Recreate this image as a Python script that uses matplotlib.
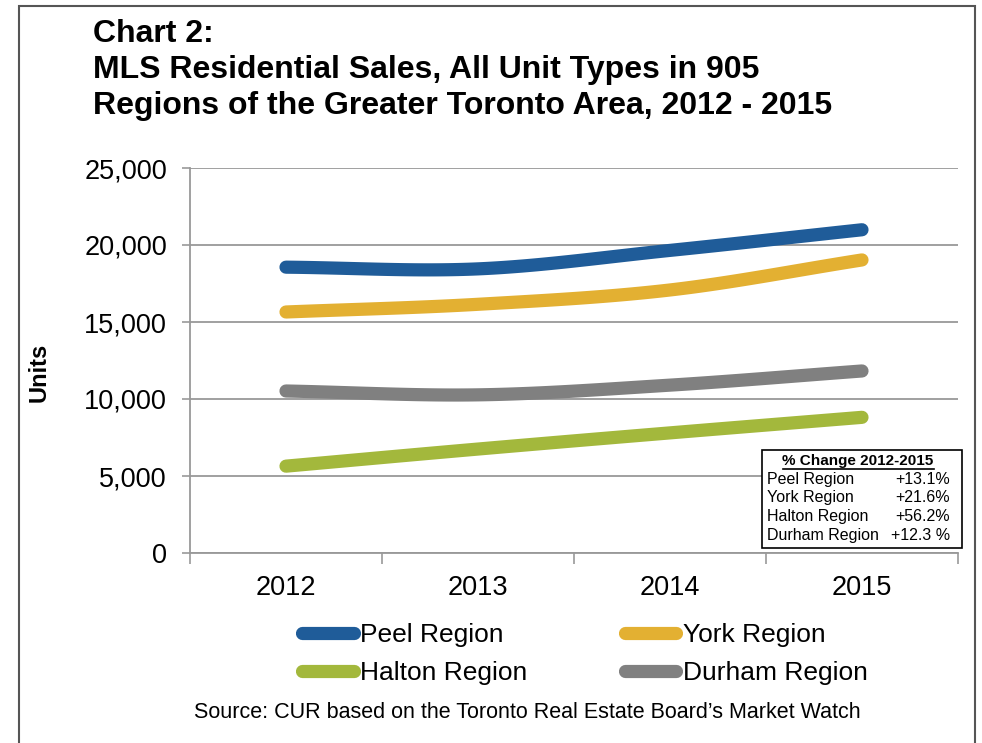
import numpy as np
import matplotlib.pyplot as plt
from matplotlib.patches import Rectangle
from matplotlib.lines import Line2D

plt.rcParams['font.family'] = ['Liberation Sans', 'DejaVu Sans']

# Дані
years = ['2012', '2013', '2014', '2015']
peel = [18560, 18450, 19650, 20990]
york = [15650, 16150, 17080, 19030]
halton = [5640, 6750, 7800, 8810]
durham = [10520, 10270, 10900, 11820]

series_names = ['Peel Region', 'York Region', 'Halton Region', 'Durham Region']
series_colors = ['#1f5c99', '#e3b032', '#a3b83c', '#808080']
change_labels = ['+13.1%', '+21.6%', '+56.2%', '+12.3 %']


def smooth(xs, ys, n=40):
    # згладжена лінія (Catmull-Rom), як у Excel
    xs = np.asarray(xs, float)
    ys = np.asarray(ys, float)
    px = np.concatenate([[2 * xs[0] - xs[1]], xs, [2 * xs[-1] - xs[-2]]])
    py = np.concatenate([[2 * ys[0] - ys[1]], ys, [2 * ys[-1] - ys[-2]]])
    out_x, out_y = [], []
    for i in range(1, len(px) - 2):
        t = np.linspace(0, 1, n)
        for arr, out in ((px, out_x), (py, out_y)):
            p0, p1, p2, p3 = arr[i - 1], arr[i], arr[i + 1], arr[i + 2]
            out.extend(0.5 * ((2 * p1) + (-p0 + p2) * t
                              + (2 * p0 - 5 * p1 + 4 * p2 - p3) * t ** 2
                              + (-p0 + 3 * p1 - 3 * p2 + p3) * t ** 3))
    return np.array(out_x), np.array(out_y)


fig = plt.figure(figsize=(9.82, 7.43), dpi=100)

# рамка навколо всього графіка
fig.add_artist(Rectangle((19 / 982, -0.05), (975 - 19) / 982, 1.05 - 6 / 743,
                         transform=fig.transFigure, fill=False,
                         edgecolor='#555555', linewidth=1.5))

fig.text(93 / 982, 1 - 19 / 743,
         'Chart 2:\nMLS Residential Sales, All Unit Types in 905\n'
         'Regions of the Greater Toronto Area, 2012 - 2015',
         fontsize=23, fontweight='bold', va='top', ha='left', linespacing=1.26)

ax = fig.add_axes([190 / 982, 1 - 553 / 743, (958 - 190) / 982, (553 - 168) / 743])

x = np.arange(len(years))
all_series = [peel, york, halton, durham]
# порядок малювання: зелена, сіра, жовта, синя
for idx in [2, 3, 1, 0]:
    sx, sy = smooth(x, all_series[idx])
    ax.plot(sx, sy, color=series_colors[idx], linewidth=9.5, solid_capstyle='round', zorder=3)

ax.set_xlim(-0.5, 3.5)
ax.set_ylim(0, 25000)
ax.set_yticks(np.arange(0, 25001, 5000))
ax.set_yticklabels([f'{v:,}' for v in range(0, 25001, 5000)])
ax.set_xticks(x)
ax.set_xticklabels(years)
ax.set_xticks(np.arange(-0.5, 3.6, 1), minor=True)
ax.tick_params(axis='x', which='major', length=0, pad=16, labelsize=19.5)
ax.tick_params(axis='x', which='minor', length=8, color='#999999', width=1.2)
ax.tick_params(axis='y', length=5.5, color='#999999', width=1.2, pad=11, labelsize=19.5)
ax.grid(axis='y', color='#999999', linewidth=1.3)
ax.set_axisbelow(True)
for s in ['top', 'right']:
    ax.spines[s].set_visible(False)
for s in ['left', 'bottom']:
    ax.spines[s].set_color('#999999')
    ax.spines[s].set_linewidth(1.3)

fig.text(39 / 982, 1 - 372 / 743, 'Units', rotation=90, fontsize=17,
         fontweight='bold', ha='center', va='center')

# таблиця зміни
tx0, ty0, tx1, ty1 = 762, 450, 962, 548
fig.add_artist(Rectangle((tx0 / 982, 1 - ty1 / 743), (tx1 - tx0) / 982, (ty1 - ty0) / 743,
                         transform=fig.transFigure, facecolor='white',
                         edgecolor='black', linewidth=1.2, zorder=5))
fig.text(858 / 982, 1 - 461 / 743, '% Change 2012-2015', fontsize=11,
         fontweight='bold', ha='center', va='center', zorder=6)
fig.add_artist(Line2D([783 / 982, 934 / 982], [1 - 469 / 743] * 2,
                      color='black', linewidth=1.2, zorder=6))
for i, (name, val) in enumerate(zip(series_names, change_labels)):
    yy = 1 - (479 + i * 18.7) / 743
    fig.text(767 / 982, yy, name, fontsize=11.5, ha='left', va='center', zorder=6)
    fig.text(950 / 982, yy, val, fontsize=11.5, ha='right', va='center', zorder=6)

# легенда (заповнюється по стовпцях, тому порядок змінено)
order = [0, 2, 1, 3]
handles = [Line2D([], [], color=series_colors[i], linewidth=9.5, solid_capstyle='round')
           for i in order]
fig.legend(handles, [series_names[i] for i in order], loc='center', ncol=2,
           bbox_to_anchor=(585 / 982, 1 - 654 / 743), frameon=False,
           fontsize=19, handlelength=1.95, handletextpad=0.25, columnspacing=3.7,
           labelspacing=0.55)

fig.text(527 / 982, 1 - 713 / 743,
         'Source: CUR based on the Toronto Real Estate Board\u2019s Market Watch',
         fontsize=15.5, ha='center', va='center')

fig.savefig('out.png', dpi=100)
